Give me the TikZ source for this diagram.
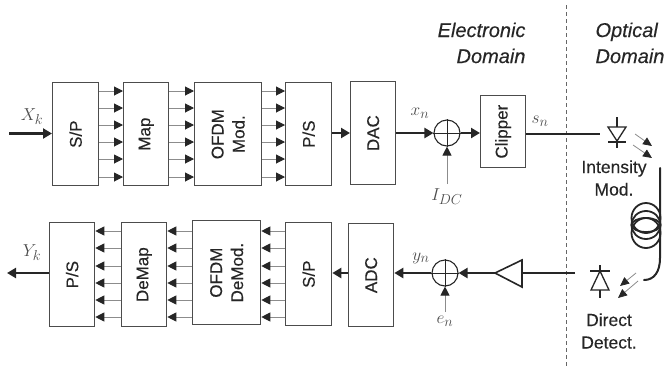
\documentclass[tikz,border=0pt]{standalone}
\usepackage{fontspec}
\setmainfont{Liberation Sans}[FakeBold=0.25]
\usetikzlibrary{arrows.meta,calc}
\definecolor{ink}{gray}{0.15}
\definecolor{edge}{gray}{0.3}
\definecolor{thin}{gray}{0.55}
\tikzset{
  x=1pt,y=-1pt,
  blk/.style={draw=edge,line width=1.3pt,fill=white,inner sep=0pt,anchor=north west,text=ink,align=center},
  lbl/.style={rotate=90,align=center,font=\fontsize{17}{19}\selectfont,text=ink},
  sumc/.style={circle,draw=ink,line width=1.1pt,minimum size=26pt,inner sep=0pt},
  bus/.style={draw=thin,line width=1pt,-{Triangle[length=9pt,width=9pt,color=ink]}},
  heavy/.style={draw=ink,line width=2.6pt,-{Triangle[length=9pt,width=10pt,color=ink]}},
  plain/.style={draw=ink,line width=2.6pt},
  feed/.style={draw=thin,line width=1pt,-{Triangle[length=9pt,width=9pt,color=ink]}},
  ray/.style={draw=thin,line width=0.8pt,-{Triangle[length=9pt,width=8pt,color=ink]}},
  dom/.style={font=\fontsize{20}{26}\selectfont\itshape,text=ink},
  opt/.style={font=\fontsize{17.5}{22.5}\selectfont,text=ink,align=center},
  mth/.style={text=black!70,font=\fontsize{19}{22}\selectfont},
  dev/.style={draw=ink,line width=1.3pt},
  coil/.style={draw=ink,line width=1.8pt},
}
\newcommand{\blockat}[6]{\node[blk,minimum width=#4pt,minimum height=#5pt] (#1) at (#2,#3) {}; \node[lbl] at (#1.center) {#6};}
\begin{document}
\begin{tikzpicture}
\useasboundingbox (0,0) rectangle (668,370);
% top row
\blockat{tsp}{52}{82}{46}{103}{S/P}
\blockat{tmap}{123}{82}{45}{103}{Map}
\blockat{tofdm}{194}{82}{67}{103}{OFDM\\[2pt]Mod.}
\blockat{tps}{285}{82}{46}{103}{P/S}
\blockat{dac}{350}{81}{45}{103}{DAC}
\blockat{clip}{480}{95}{45}{72}{Clipper}
% bottom row
\blockat{bps}{49}{222}{45}{104}{P/S}
\blockat{bdem}{121}{222}{45}{104}{DeMap}
\blockat{bofdm}{192}{220}{68}{104}{OFDM\\[2pt]DeMod.}
\blockat{bsp}{285}{222}{46}{103}{S/P}
\blockat{adc}{348}{223}{45}{103}{ADC}
% buses
\foreach \a/\b in {tsp/tmap,tmap/tofdm,tofdm/tps}
  \foreach \yy in {91,108,125,142,159,177} {
    \coordinate (ry) at (0,\yy);
    \draw[bus] (\a.east |- ry) -- (\b.west |- ry);
  }
\foreach \a/\b in {bsp/bofdm,bofdm/bdem,bdem/bps}
  \foreach \yy in {231,248,266,283,300,317} {
    \coordinate (ry) at (0,\yy);
    \draw[bus] (\a.west |- ry) -- (\b.east |- ry);
  }
% free ends
\coordinate (xin) at (9,133.5);
\coordinate (yout) at (7,273);
\draw[heavy] (xin) -- (tsp.west |- xin);
\draw[heavy] (bps.west |- yout) -- (yout);
% top chain
\node[sumc] (sum1) at (447,133) {};
\draw[ink,line width=.7pt] (sum1.north) -- (sum1.south) (sum1.west) -- (sum1.east);
\draw[heavy] (tps.east |- sum1) -- (dac.west |- sum1);
\draw[heavy] (dac.east |- sum1) -- (sum1.west);
\draw[heavy] (sum1.east) -- (clip.west |- sum1);
\coordinate (idc) at (447,184);
\draw[feed] (idc) -- (sum1.south);
\node[mth] (lxk) at (32,117) {$X_k$};
\node[mth] (lxn) at (420,113) {$x_n$};
\node[mth] (lidc) at (447,197) {$I_{DC}$};
\node[mth] (lsn) at (540,121) {$s_n$};
\node[mth] (lyk) at (32,253) {$Y_k$};
\node[mth] (lyn) at (421,258) {$y_n$};
\node[mth] (len) at (445,321) {$e_n$};
% divider
\coordinate (dtop) at (566,5);
\coordinate (dbot) at (566,366);
\draw[draw=black!60,line width=.9pt,dash pattern=on 4pt off 3pt] (dtop) -- (dbot);
% domain labels
\node[dom,anchor=north east,align=right] (ed) at (529,19) {Electronic\\Domain};
\node[dom,anchor=north west,align=left] (od) at (592,19) {Optical\\Domain};
% laser
\coordinate (ltx) at (600,134);
\draw[plain] (clip.east |- ltx) -- (ltx);
\draw[dev,fill=white] (608,127) -- (626,127) -- (617,141) -- cycle;
\draw[dev] (608,142) -- (626,142) (617,117) -- (617,127) (617,141) -- (617,148);
\draw[ray] (635,134) -- (652,146);
\draw[ray] (633,145) -- (652,158);
\node[opt] (im) at (614,178) {Intensity\\Mod.};
% fibre
\coordinate (fa) at (660,168);
\coordinate (fb) at (644,280);
\draw[ink,line width=2pt,line cap=round] (fa) -- (660,258) .. controls (660,272) and (654,280) .. (fb);
\draw[coil] (646,218) ellipse [x radius=14.5,y radius=15];
\draw[coil] (646,225) ellipse [x radius=14.5,y radius=14];
\draw[coil] (646,233) ellipse [x radius=14.5,y radius=15];
\draw[coil] (646,225) ellipse [x radius=14.5,y radius=7];
% amplifier and receive chain
\node[sumc] (sum2) at (445,273) {};
\draw[ink,line width=.7pt] (sum2.north) -- (sum2.south) (sum2.west) -- (sum2.east);
\coordinate (rxe) at (575,273);
\coordinate (ampb) at (522,273);
\coordinate (ampa) at (495,273);
\draw[plain] (rxe) -- (ampb);
\draw[dev,line width=1.6pt,fill=white] (522,260) -- (522,287) -- (ampa) -- cycle;
\draw[heavy] (ampa) -- (sum2.east);
\draw[heavy] (sum2.west) -- (adc.east |- sum2);
\draw[heavy] (adc.west |- sum2) -- (bsp.east |- sum2);
\coordinate (ein) at (445,312);
\draw[feed] (ein) -- (sum2.south);
% detector
\draw[dev,fill=white] (600,271) -- (609,290) -- (591,290) -- cycle;
\draw[dev] (590,271) -- (610,271) (600,265) -- (600,271) (600,290) -- (600,298);
\draw[ray] (636,273) -- (620,286);
\draw[ray] (638,281) -- (618,298);
\node[opt] (dd) at (609,331) {Direct\\Detect.};
\end{tikzpicture}
\end{document}
